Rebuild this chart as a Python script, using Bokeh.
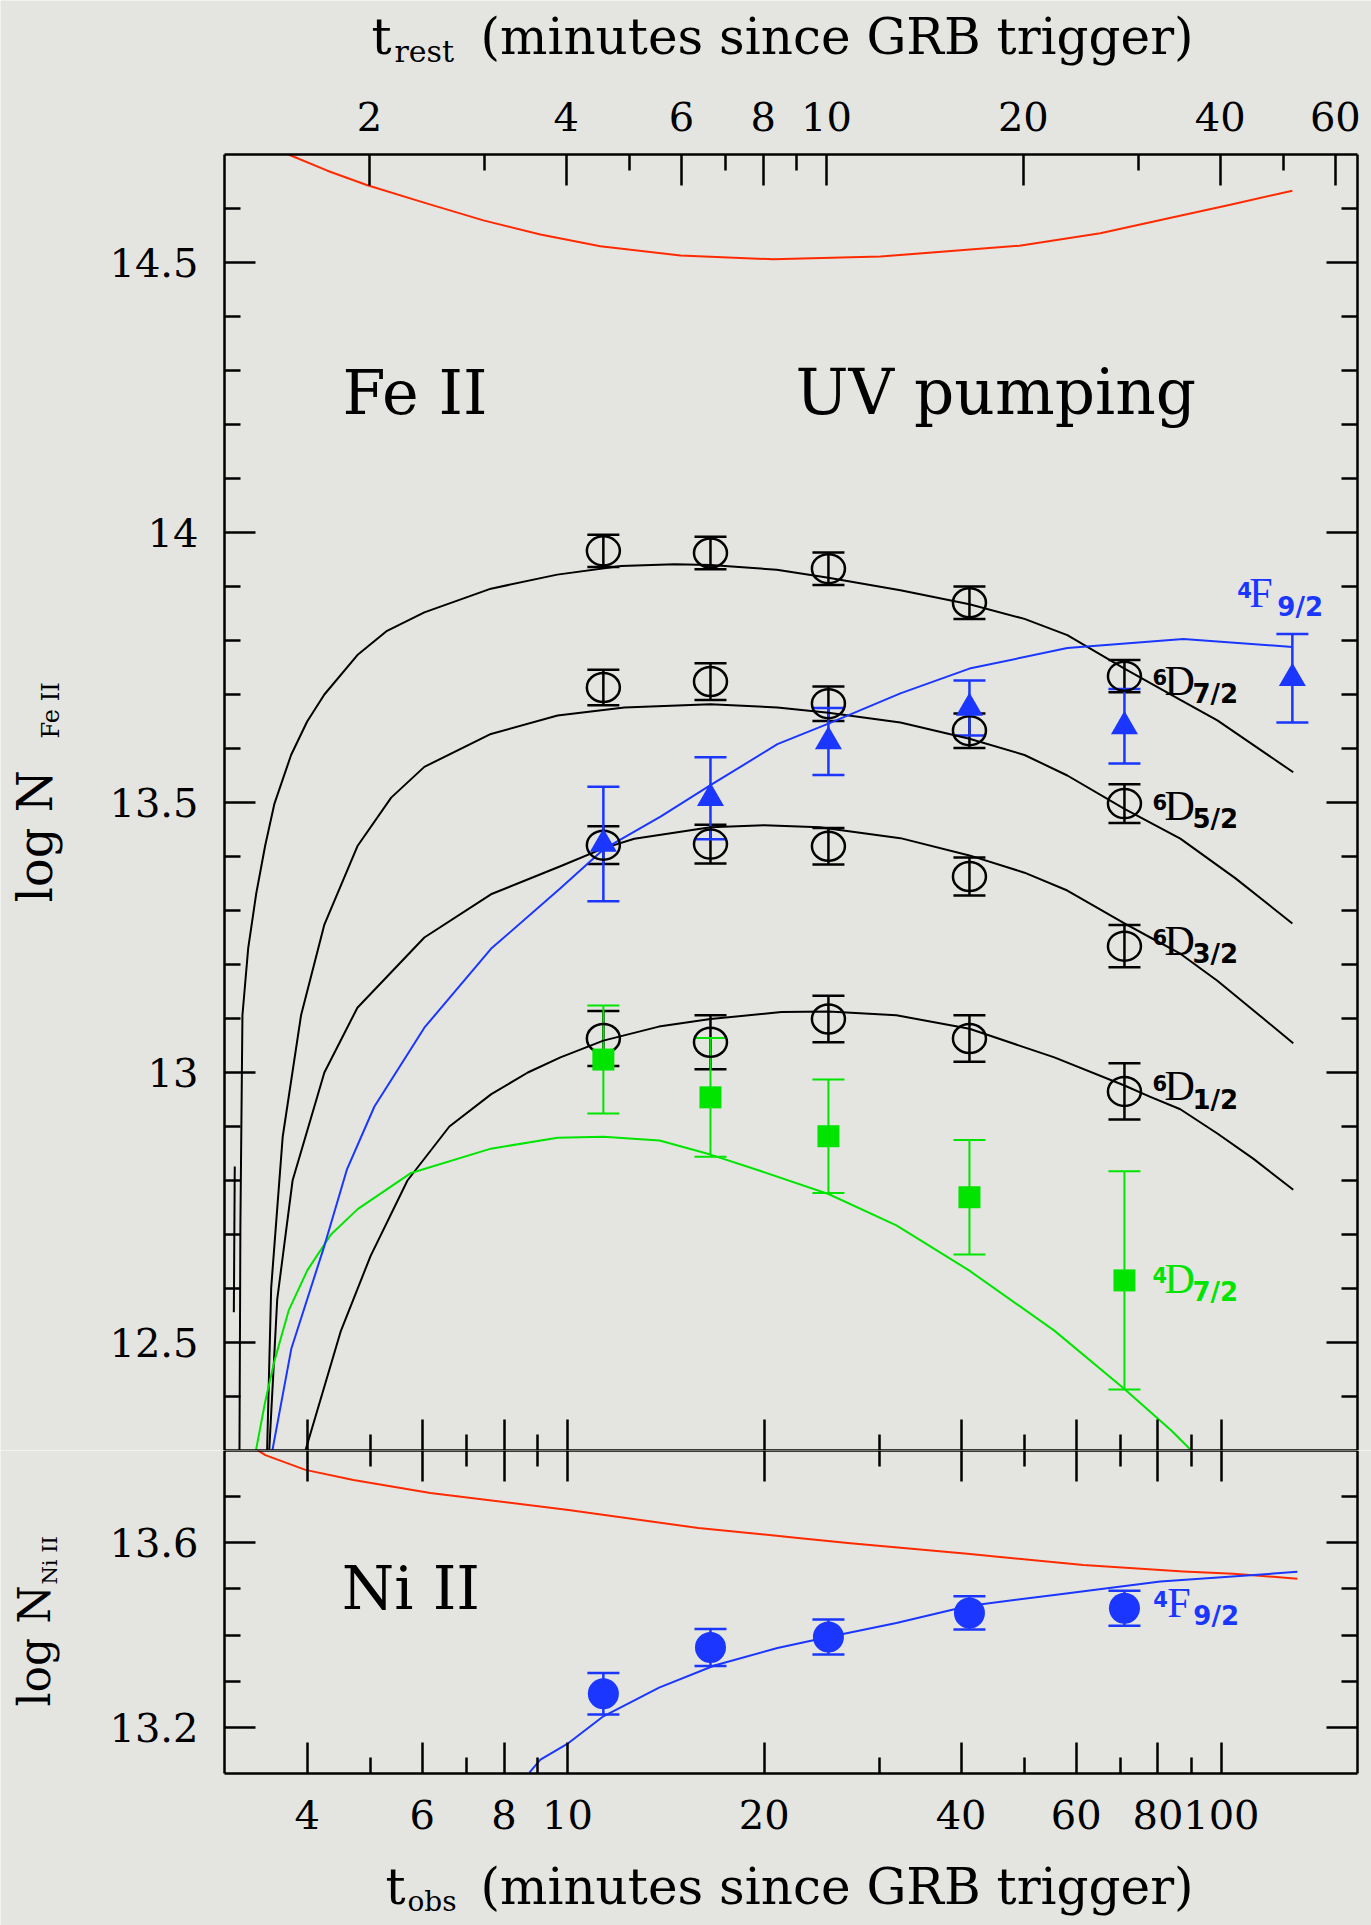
import numpy as np
from bokeh.plotting import figure
from bokeh.models import (Range1d, LogAxis, LinearAxis, FixedTicker, LogScale,
                          Whisker, TeeHead, ColumnDataSource, Label)
from bokeh.layouts import column
from bokeh.embed import file_html
from bokeh.resources import INLINE
from bokeh.core.properties import value

# ---------------- data ----------------
Z1 = 2.49  # 1+z, t_rest = t_obs / (1+z)

t_obs = [11.35, 16.55, 25.07, 41.19, 71.09]
t_obs_4f = [11.35, 16.55, 25.07, 41.19, 71.09, 128.4]

fe_6d72 = [13.966, 13.962, 13.933, 13.870, 13.734]
fe_6d72_err = [0.030, 0.030, 0.030, 0.030, 0.030]
fe_6d52 = [13.713, 13.724, 13.683, 13.633, 13.498]
fe_6d52_err = [0.033, 0.034, 0.032, 0.032, 0.036]
fe_6d32 = [13.421, 13.423, 13.419, 13.363, 13.234]
fe_6d32_err = [0.035, 0.036, 0.034, 0.035, 0.039]
fe_6d12 = [13.063, 13.056, 13.099, 13.063, 12.965]
fe_6d12_err = [0.051, 0.050, 0.043, 0.043, 0.052]
fe_4f92 = [13.423, 13.508, 13.613, 13.675, 13.641, 13.730]
fe_4f92_err = [0.106, 0.076, 0.062, 0.051, 0.069, 0.082]
fe_4d72 = [13.024, 12.954, 12.882, 12.769, 12.615]
fe_4d72_err = [0.100, 0.110, 0.105, 0.106, 0.202]
ni_4f92 = [13.273, 13.373, 13.396, 13.448, 13.458]
ni_4f92_err = [0.045, 0.040, 0.038, 0.036, 0.038]

# model curves
fe_red_t = [3.745, 4.295, 4.946, 6.107, 7.44, 9.094, 11.23, 14.89, 20.65, 30.1, 49.11, 65.3, 82.38,
            103.2, 128.4]
fe_red_v = [14.70, 14.670, 14.643, 14.609, 14.578, 14.552, 14.530, 14.513, 14.506, 14.511, 14.531,
            14.554, 14.581, 14.607, 14.633]

m72_t = [3.152, 3.162, 3.185, 3.25, 3.342, 3.45, 3.565, 3.78, 4.0, 4.25, 4.774, 5.3, 6.043, 7.64, 9.65,
         12.08, 14.58, 16.55, 20.9, 25.07, 32.3, 41.19, 50.0, 58.14, 71.09, 86.55, 98.6, 128.8]
m72_v = [12.30, 12.713, 13.106, 13.23, 13.330, 13.42, 13.498, 13.588, 13.650, 13.700, 13.773, 13.818,
         13.852, 13.896, 13.922, 13.938, 13.941, 13.940, 13.931, 13.916, 13.893, 13.867, 13.840,
         13.810, 13.748, 13.690, 13.652, 13.556]

m52_t = [3.474, 3.524, 3.67, 3.915, 4.25, 4.779, 5.377, 6.043, 7.64, 9.66, 12.22, 16.55, 20.95, 25.07,
         32.3, 41.19, 50.0, 58.14, 71.09, 86.55, 105.0, 128.4]
m52_v = [12.30, 12.601, 12.881, 13.106, 13.274, 13.420, 13.509, 13.566, 13.627, 13.661, 13.676, 13.682,
         13.676, 13.666, 13.648, 13.618, 13.588, 13.550, 13.488, 13.433, 13.360, 13.276]

m32_t = [3.50, 3.60, 3.80, 4.25, 4.774, 6.043, 7.64, 9.757, 11.35, 12.66, 16.55, 20.0, 24.29, 32.3,
         41.19, 50.0, 58.14, 71.09, 77.87, 86.55, 98.6, 112.0, 128.8]
m32_v = [12.30, 12.58, 12.80, 13.00, 13.12, 13.25, 13.33, 13.382, 13.415, 13.433, 13.454, 13.458,
         13.454, 13.434, 13.402, 13.370, 13.337, 13.276, 13.250, 13.220, 13.170, 13.115, 13.054]

m12_t = [3.976, 4.5, 5.0, 5.694, 6.6, 7.65, 8.7, 9.757, 11.35, 13.8, 16.55, 21.25, 25.07, 31.85, 41.19,
         55.54, 71.09, 77.87, 86.55, 98.6, 112.0, 128.8]
m12_v = [12.30, 12.52, 12.66, 12.80, 12.90, 12.96, 13.00, 13.028, 13.059, 13.085, 13.099, 13.112,
         13.113, 13.106, 13.081, 13.028, 12.976, 12.955, 12.932, 12.887, 12.840, 12.783]

m4d_t = [3.34, 3.45, 3.565, 3.75, 4.004, 4.35, 4.779, 5.768, 7.64, 9.66, 11.35, 13.83, 16.55, 19.59,
         25.07, 31.85, 41.19, 55.54, 71.09, 83.84, 89.96]
m4d_v = [12.30, 12.39, 12.466, 12.56, 12.634, 12.70, 12.747, 12.814, 12.859, 12.879, 12.881, 12.874,
         12.848, 12.819, 12.775, 12.717, 12.633, 12.522, 12.414, 12.337, 12.30]

m4f_t = [3.539, 3.784, 4.25, 4.6, 5.069, 6.043, 7.64, 9.757, 11.35, 13.88, 16.55, 20.95, 25.07, 32.3,
         41.19, 58.14, 87.47, 128.4]
m4f_v = [12.30, 12.489, 12.679, 12.82, 12.937, 13.083, 13.229, 13.341, 13.413, 13.474, 13.532, 13.608,
         13.646, 13.702, 13.748, 13.786, 13.803, 13.788]

m_extra_t = [3.09, 3.10]
m_extra_v = [12.556, 12.826]

ni_red_t = [3.357, 3.453, 3.976, 4.708, 6.172, 10.04, 15.86, 22.72, 27.09, 40.9, 61.52, 87.47, 104.3, 130.7]
ni_red_v = [13.801, 13.790, 13.758, 13.736, 13.708, 13.671, 13.632, 13.610, 13.599, 13.576, 13.552,
            13.538, 13.533, 13.522]

ni_blue_t = [8.747, 9.094, 10.04, 11.35, 13.81, 16.78, 20.95, 25.07, 31.85, 41.0, 55.54, 80.66, 130.7]
ni_blue_v = [13.102, 13.130, 13.166, 13.224, 13.286, 13.334, 13.372, 13.396, 13.426, 13.463, 13.487,
             13.516, 13.537]

# level labels (anchor = left edge, baseline of the big letter)
lab_t = [78.45, 78.45, 78.45, 78.45, 78.45, 105.8]
lab_v = [13.694, 13.463, 13.213, 12.943, 12.587, 13.856]
lab_sup = ["6", "6", "6", "6", "4", "4"]
lab_main = ["D", "D", "D", "D", "D", "F"]
lab_sub = ["7/2", "5/2", "3/2", "1/2", "7/2", "9/2"]
ni_lab_t = [78.7]
ni_lab_v = [13.433]

bot_major = [4, 6, 8, 10, 20, 40, 60, 80, 100]
bot_minor = [5, 7, 9, 30, 50, 70, 90]
top_major = [2, 4, 6, 8, 10, 20, 40, 60]
top_minor = [3, 5, 7, 9, 30, 50]
fe_major = [12.5, 13.0, 13.5, 14.0, 14.5]
fe_minor = [12.4, 12.6, 12.7, 12.8, 12.9, 13.1, 13.2, 13.3, 13.4, 13.6, 13.7, 13.8, 13.9,
            14.1, 14.2, 14.3, 14.4, 14.6]
fe_labels = ["12.5", "13", "13.5", "14", "14.5"]
ni_major = [13.2, 13.6]
ni_minor = [13.3, 13.4, 13.5, 13.7]
ni_labels = ["13.2", "13.6"]

# ---------------- layout / style ----------------
BG = "#e4e5e0"
RED = "#ff2a00"
BLUE = "#1a36ff"
GREEN = "#00e400"
W, H = 1371, 1925
FL, FR = 224, 1357                 # frame left / right (px)
P1_TOP, P1_BOT, P2_BOT = 154, 1450, 1773
XMIN, XMAX = 2.99, 161.5
FE_LO, FE_HI = 12.3, 14.7
NI_LO, NI_HI = 13.1, 13.8
TICKFONT = "DejaVu Serif"
KB = 0.40   # baseline correction of rendered text (fraction of font size)

# the plot frames cover the whole canvas; axes sit at fixed data locations
px_dec = (FR - FL) / (np.log10(XMAX) - np.log10(XMIN))
X_LO = 10 ** (np.log10(XMIN) - FL / px_dec)
X_HI = 10 ** (np.log10(XMAX) + (W - FR) / px_dec)
fe_ppu = (P1_BOT - P1_TOP) / (FE_HI - FE_LO)
ni_ppu = (P2_BOT - P1_BOT) / (NI_HI - NI_LO)


def fig(height, ylo, yhi):
    p = figure(width=W, height=height, x_axis_type="log", x_axis_location=None, y_axis_location=None,
               x_range=Range1d(X_LO, X_HI), y_range=Range1d(ylo, yhi), min_border=0,
               toolbar_location=None, output_backend="svg", background_fill_color=BG,
               border_fill_color=BG, outline_line_color=None)
    p.grid.visible = False
    return p


def base_axis(ax, bounds):
    ax.bounds = bounds
    ax.axis_line_width = 2.5
    ax.axis_line_color = "black"
    for a in ("major", "minor"):
        setattr(ax, a + "_tick_line_width", 2.5)
        setattr(ax, a + "_tick_line_color", "black")
        setattr(ax, a + "_tick_out", 0)


def labeled_axis(p, cls, side, loc, bounds, major, minor, labels, standoff, **kw):
    ax = cls(fixed_location=loc, **kw)
    base_axis(ax, bounds)
    ax.ticker = FixedTicker(ticks=major, minor_ticks=minor)
    ax.major_tick_in = 31
    ax.minor_tick_in = 16
    ax.major_label_overrides = {float(k): v for k, v in zip(major, labels)}
    ax.major_label_text_font = TICKFONT
    ax.major_label_text_font_size = "40px"
    ax.major_label_text_color = "black"
    ax.major_label_standoff = standoff
    p.add_layout(ax, side)


def tick_axis(p, cls, side, loc, bounds, major, minor, **kw):
    # ticks only: long and short ticks both drawn as minor ticks (no labels)
    for ticks, length, line in ((major, 31, "black"), (minor, 16, None)):
        ax = cls(fixed_location=loc, **kw)
        base_axis(ax, bounds)
        ax.axis_line_color = line
        ax.ticker = FixedTicker(ticks=[], minor_ticks=ticks)
        ax.minor_tick_in = length
        ax.major_label_standoff = 0
        p.add_layout(ax, side)


def err_bars(p, x, y, e, color, lw=2.5):
    src = ColumnDataSource(dict(x=x, lo=[a - b for a, b in zip(y, e)], hi=[a + b for a, b in zip(y, e)]))
    p.add_layout(Whisker(source=src, base="x", lower="lo", upper="hi", dimension="height",
                         line_color=color, line_width=lw,
                         upper_head=TeeHead(size=32, line_color=color, line_width=lw),
                         lower_head=TeeHead(size=32, line_color=color, line_width=lw)))


def level_label(p, tx, vy, sup, main, sub, colors, dx_main=12, dx_sub=40):
    src = ColumnDataSource(dict(x=tx, y=vy, sup=sup, main=main, sub=sub, c=colors))
    p.text(x="x", y="y", text="sup", source=src, text_color="c", text_font=value("DejaVu Sans"),
           text_font_size="21px", text_font_style="bold", text_baseline="alphabetic",
           text_align="left", y_offset=-12 - KB * 21)
    p.text(x="x", y="y", text="main", source=src, text_color="c", text_font=value("Liberation Serif"),
           text_font_size="42px", text_baseline="alphabetic", text_align="left", x_offset=dx_main,
           y_offset=-KB * 42)
    p.text(x="x", y="y", text="sub", source=src, text_color="c", text_font=value("DejaVu Sans"),
           text_font_size="26px", text_font_style="bold", text_baseline="alphabetic",
           text_align="left", x_offset=dx_sub, y_offset=7 - KB * 26)


def canvas_label(p, h, cx, cy, text, size, rotated=False, font="DejaVu Serif"):
    # cx, cy: canvas pixel position (from top-left of this figure) of the text baseline start
    if rotated:
        cx = cx - KB * size
    else:
        cy = cy - KB * size
    p.add_layout(Label(x=cx, y=h - cy, x_units="screen", y_units="screen", text=text,
                       text_font=font, text_font_size="%dpx" % size, text_color="black",
                       text_align="left", text_baseline="alphabetic",
                       angle=np.pi / 2 if rotated else 0.0))


def data_label(p, x, y, ppu, text, size):
    p.add_layout(Label(x=x, y=y + KB * size / ppu, text=text, text_font="DejaVu Serif",
                       text_font_size="%dpx" % size, text_color="black", text_baseline="alphabetic"))


# ---------------- upper panel: Fe II ----------------
H1 = P1_BOT
p1 = fig(H1, FE_LO, FE_HI + P1_TOP / fe_ppu)
p1.extra_x_ranges = {"rest": Range1d(X_LO / Z1, X_HI / Z1)}
p1.extra_x_scales = {"rest": LogScale()}

labeled_axis(p1, LinearAxis, "left", XMIN, (FE_LO, FE_HI), fe_major, fe_minor, fe_labels, 26)
labeled_axis(p1, LogAxis, "above", FE_HI, (XMIN / Z1, XMAX / Z1), top_major, top_minor,
             [str(v) for v in top_major], 24, x_range_name="rest")
tick_axis(p1, LinearAxis, "right", XMAX, (FE_LO, FE_HI), fe_major, fe_minor)
tick_axis(p1, LogAxis, "below", FE_LO, (XMIN, XMAX), bot_major, bot_minor)

for tt, vv, col in [(fe_red_t, fe_red_v, RED), (m72_t, m72_v, "black"), (m52_t, m52_v, "black"),
                    (m32_t, m32_v, "black"), (m12_t, m12_v, "black"), (m_extra_t, m_extra_v, "black"),
                    (m4d_t, m4d_v, GREEN), (m4f_t, m4f_v, BLUE)]:
    p1.line(tt, vv, line_color=col, line_width=2, line_join="round")

for vals, errs in [(fe_6d72, fe_6d72_err), (fe_6d52, fe_6d52_err), (fe_6d32, fe_6d32_err),
                   (fe_6d12, fe_6d12_err)]:
    err_bars(p1, t_obs, vals, errs, "black")
    p1.ellipse(t_obs, vals, width=33, height=29, width_units="screen", height_units="screen",
               fill_color=None, line_color="black", line_width=2.5)
err_bars(p1, t_obs, fe_4d72, fe_4d72_err, GREEN, 2)
p1.scatter(t_obs, fe_4d72, marker="square", size=22, fill_color=GREEN, line_color=None)
err_bars(p1, t_obs_4f, fe_4f92, fe_4f92_err, BLUE)
p1.scatter(t_obs_4f, fe_4f92, marker="triangle", size=27, fill_color=BLUE, line_color=None)

level_label(p1, lab_t, lab_v, lab_sup, lab_main, lab_sub,
            ["black", "black", "black", "black", GREEN, BLUE])

data_label(p1, 4.529, 14.213, fe_ppu, "Fe II", 62)
data_label(p1, 22.32, 14.213, fe_ppu, "UV  pumping", 63)

canvas_label(p1, H1, 371, 56, "t", 50)
canvas_label(p1, H1, 394, 63, "rest", 30)
canvas_label(p1, H1, 480, 56, "(minutes since GRB trigger)", 50)
canvas_label(p1, H1, 54, 902, "log  N", 48, rotated=True)
canvas_label(p1, H1, 60, 738, "Fe II", 24, rotated=True)

# ---------------- lower panel: Ni II ----------------
H2 = H - P1_BOT
p2 = fig(H2, NI_LO - (H - P2_BOT) / ni_ppu, NI_HI)

labeled_axis(p2, LinearAxis, "left", XMIN, (NI_LO, NI_HI), ni_major, ni_minor, ni_labels, 26)
labeled_axis(p2, LogAxis, "below", NI_LO, (XMIN, XMAX), bot_major, bot_minor,
             [str(v) for v in bot_major], 26)
tick_axis(p2, LinearAxis, "right", XMAX, (NI_LO, NI_HI), ni_major, ni_minor)
tick_axis(p2, LogAxis, "above", NI_HI, (XMIN, XMAX), bot_major, bot_minor)

p2.line(ni_red_t, ni_red_v, line_color=RED, line_width=2, line_join="round")
p2.line(ni_blue_t, ni_blue_v, line_color=BLUE, line_width=2, line_join="round")
err_bars(p2, t_obs, ni_4f92, ni_4f92_err, BLUE)
p2.scatter(t_obs, ni_4f92, marker="circle", size=31, fill_color=BLUE, line_color=None)
level_label(p2, ni_lab_t, ni_lab_v, ["4"], ["F"], ["9/2"], [BLUE], dx_main=14, dx_sub=40)

data_label(p2, 4.52, 13.451, ni_ppu, "Ni II", 60)

canvas_label(p2, H2, 385, 1906 - P1_BOT, "t", 50)
canvas_label(p2, H2, 407, 1912 - P1_BOT, "obs", 28)
canvas_label(p2, H2, 480, 1906 - P1_BOT, "(minutes since GRB trigger)", 50)
canvas_label(p2, H2, 52, 1706 - P1_BOT, "log N", 44, rotated=True)
canvas_label(p2, H2, 58, 1584 - P1_BOT, "Ni II", 21, rotated=True)

layout = column(p1, p2, spacing=0)
open("out.html", "w").write(file_html(layout, INLINE))
